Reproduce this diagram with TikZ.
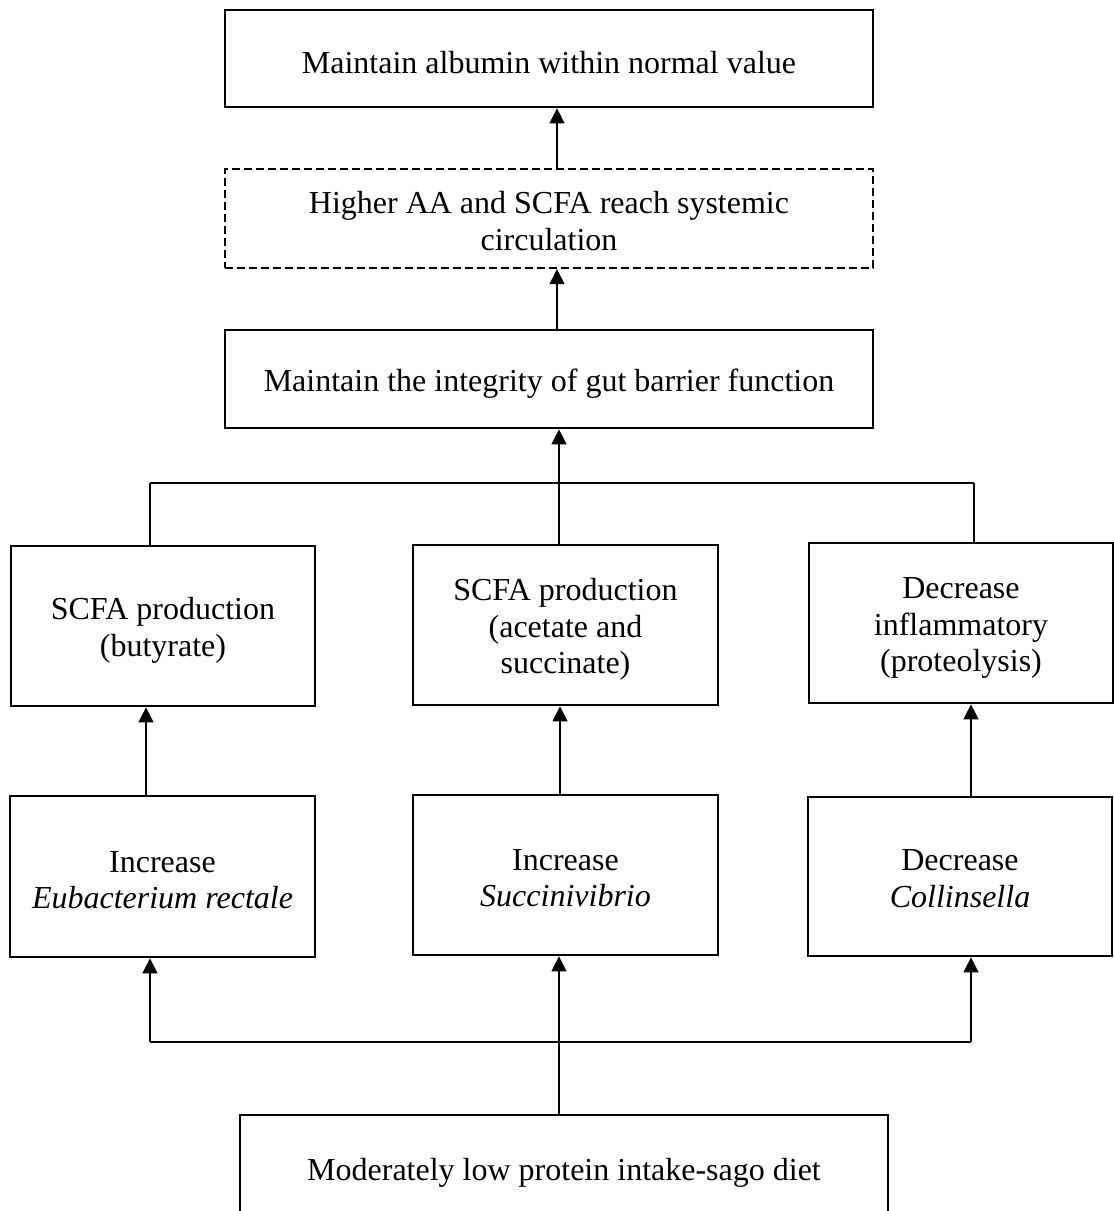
\documentclass[tikz,border=0pt]{standalone}
\usepackage{fontspec}
\setmainfont{Liberation Serif}
\usetikzlibrary{arrows.meta}
\newcommand{\fstrut}{\rule{0pt}{31pt}}
\begin{document}
\begin{tikzpicture}[x=1pt,y=-1pt,
  box/.style={draw, line width=2.7pt, inner sep=0pt, align=center, font=\fontsize{32}{36.5}\selectfont},
  dbox/.style={box, dash pattern=on 8pt off 4pt, line width=2.4pt},
  arr/.style={line width=1.4pt, -{Triangle[length=15pt,width=15pt]}},
  bar/.style={line width=2.4pt},
  link/.style={line width=1.5pt}]
\useasboundingbox (0,0) rectangle (1114,1211);

\node[box, minimum width=648pt, minimum height=97pt] (albumin) at (549,58.5) {\fstrut Maintain albumin within normal value};
\node[dbox, minimum width=648pt, minimum height=99pt] (aa) at (549,218.5) {\rule{0pt}{27pt}Higher AA and SCFA reach systemic\\circulation};
\node[box, minimum width=648pt, minimum height=98pt] (gut) at (549,379) {\fstrut Maintain the integrity of gut barrier function};

\node[box, minimum width=304pt, minimum height=160pt] (butyrate) at (163,626) {\fstrut SCFA production\\(butyrate)};
\node[box, minimum width=305pt, minimum height=160pt] (acetate) at (565.5,625) {\fstrut SCFA production\\(acetate and\\succinate)};
\node[box, minimum width=304pt, minimum height=160pt] (inflam) at (961,623) {\fstrut Decrease\\inflammatory\\(proteolysis)};

\node[box, minimum width=305pt, minimum height=161pt] (eub) at (162.5,876.5) {\rule{0pt}{28pt}Increase\\\textit{Eubacterium rectale}};
\node[box, minimum width=305pt, minimum height=160pt] (succ) at (565.5,875) {\rule{0pt}{27pt}Increase\\\textit{Succinivibrio}};
\node[box, minimum width=304pt, minimum height=159pt] (coll) at (960,876.5) {\rule{0pt}{25pt}Decrease\\\textit{Collinsella}};

\node[box, minimum width=648pt, minimum height=106pt] (diet) at (564,1168) {\fstrut Moderately low protein intake-sago diet};

% upper connectors
\coordinate (ca) at (557,0);
\draw[arr] (ca |- aa.north) -- (ca |- albumin.south);
\draw[arr] (ca |- gut.north) -- (ca |- aa.south);

\coordinate (tb1) at (150,483);
\coordinate (tb2) at (974,483);
\draw[bar] (tb1) -- (tb2);
\draw[link] (tb1) -- (tb1 |- butyrate.north);
\draw[link] (tb2) -- (tb2 |- inflam.north);
\coordinate (cx) at (559,0);
\draw[arr] (cx |- acetate.north) -- (cx |- gut.south);

% row arrows
\coordinate (c1) at (146,0);
\coordinate (c2) at (560,0);
\coordinate (c3) at (971,0);
\draw[arr] (c1 |- eub.north) -- (c1 |- butyrate.south);
\draw[arr] (c2 |- succ.north) -- (c2 |- acetate.south);
\draw[arr] (c3 |- coll.north) -- (c3 |- inflam.south);

% bottom connectors
\coordinate (bb1) at (150,1042);
\coordinate (bb2) at (559,1042);
\coordinate (bb3) at (971,1042);
\draw[bar] (bb1) -- (bb3);
\draw[arr] (bb1) -- (bb1 |- eub.south);
\draw[arr] (bb2) -- (bb2 |- succ.south);
\draw[arr] (bb3) -- (bb3 |- coll.south);
\draw[link] (bb2 |- diet.north) -- (bb2);
\end{tikzpicture}
\end{document}
